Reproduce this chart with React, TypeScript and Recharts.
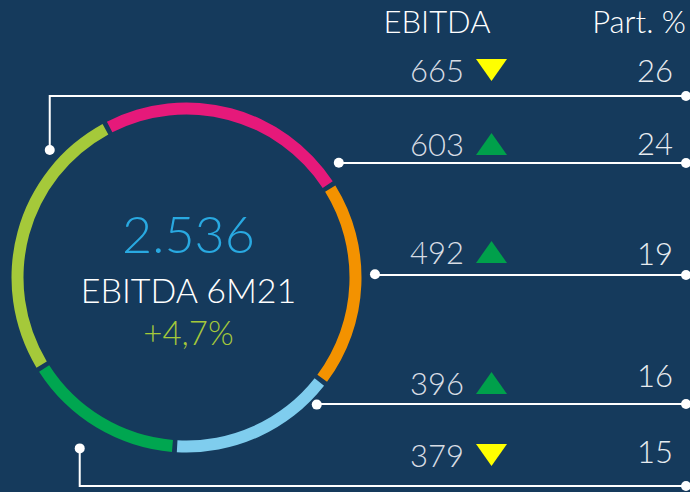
import React from 'react';
import { PieChart, Pie, Cell } from 'recharts';

// EBITDA 6M21 breakdown (no segment names shown in the picture)
const segments = ['seg1', 'seg2', 'seg3', 'seg4', 'seg5'];
const ebitda = [665, 603, 492, 396, 379];
const share = [26, 24, 19, 16, 15];
const trend = ['down', 'up', 'up', 'up', 'down'];

const totalLabel = '2.536';
const centerTitle = 'EBITDA 6M21';
const growthLabel = '+4,7%';
const headers = ['EBITDA', 'Part. %'];

const colors = ['#a5c93a', '#e6197a', '#f39200', '#7fcdee', '#00a650'];
const BG = '#153a5c';
const FONT = 'Lato, "Open Sans", sans-serif';

// where each connector leaves the ring, and where its row sits
const rowLayout = [
  { angle: 137, r: 187, lineY: 96, textY: 82, pctY: 82 },
  { angle: 37, r: 190.7, lineY: 163, textY: 156, pctY: 155 },
  { angle: 1, r: 188.5, lineY: 275, textY: 264, pctY: 265 },
  { angle: -44.3, r: 182, lineY: 404, textY: 395, pctY: 387 },
  { angle: -122, r: 201.5, lineY: 486, textY: 467, pctY: 463 },
];

const W = 690;
const H = 492;
const VALUE_RIGHT = 464;
const TRI_X = 476;
const TRI_W = 31;
const PCT_RIGHT = 673;
const LINE_END = 686;

const data = segments.map((name, i) => ({ name, value: ebitda[i], share: share[i], trend: trend[i] }));

const renderRow = (props: any) => {
  const { cx, cy, index } = props;
  const row = rowLayout[index];
  const d = data[index];
  const rad = (row.angle * Math.PI) / 180;
  const dx = cx + row.r * Math.cos(rad);
  const dy = cy - row.r * Math.sin(rad);
  const up = d.trend === 'up';
  const tTop = row.textY - 23;
  const tBot = row.textY - 1;
  const tri = up
    ? `${TRI_X},${tBot} ${TRI_X + TRI_W},${tBot} ${TRI_X + TRI_W / 2},${tTop}`
    : `${TRI_X},${tTop} ${TRI_X + TRI_W},${tTop} ${TRI_X + TRI_W / 2},${tBot}`;

  return (
    <g key={`row-${index}`}>
      {index === 0 && (
        <g>
          <text x={cx + 2} y={cy - 25} textAnchor="middle" fill="#29a9e1" fontSize={52} fontWeight={300} fontFamily={FONT}>
            {totalLabel}
          </text>
          <text x={cx + 2} y={cy + 25} textAnchor="middle" fill="#ffffff" fontSize={34} fontWeight={300} fontFamily={FONT}>
            {centerTitle}
          </text>
          <text x={cx + 2} y={cy + 67} textAnchor="middle" fill="#a5c93a" fontSize={33} fontWeight={300} fontFamily={FONT}>
            {growthLabel}
          </text>
          <text x={437} y={33} textAnchor="middle" fill="#ffffff" fontSize={31} fontWeight={300} fontFamily={FONT}>
            {headers[0]}
          </text>
          <text x={686} y={33} textAnchor="end" fill="#ffffff" fontSize={31} fontWeight={300} fontFamily={FONT}>
            {headers[1]}
          </text>
        </g>
      )}
      <polyline
        points={`${dx},${dy} ${dx},${row.lineY} ${LINE_END},${row.lineY}`}
        fill="none"
        stroke="#ffffff"
        strokeWidth={2}
      />
      <circle cx={dx} cy={dy} r={5} fill="#ffffff" />
      <circle cx={LINE_END} cy={row.lineY} r={5} fill="#ffffff" />
      <text x={VALUE_RIGHT} y={row.textY} textAnchor="end" fill="#d8dde4" fontSize={31} fontWeight={300} fontFamily={FONT}>
        {d.value}
      </text>
      <polygon points={tri} fill={up ? '#00a04b' : '#ffff00'} />
      <text x={PCT_RIGHT} y={row.pctY} textAnchor="end" fill="#e8ecf0" fontSize={31} fontWeight={300} fontFamily={FONT}>
        {d.share}
      </text>
    </g>
  );
};

export default function App() {
  return (
    <div style={{ position: 'fixed', left: 0, top: 0, width: W, height: H, background: BG }}>
      <PieChart width={W} height={H} margin={{ top: 0, right: 0, bottom: 0, left: 0 }}>
        <Pie
          data={data}
          dataKey="value"
          nameKey="name"
          cx={186.5}
          cy={277.5}
          innerRadius={163}
          outerRadius={175}
          startAngle={211}
          endAngle={-149}
          paddingAngle={1.6}
          stroke="none"
          label={renderRow}
          labelLine={false}
          isAnimationActive={false}
        >
          {data.map((d, i) => (
            <Cell key={d.name} fill={colors[i]} />
          ))}
        </Pie>
      </PieChart>
    </div>
  );
}
